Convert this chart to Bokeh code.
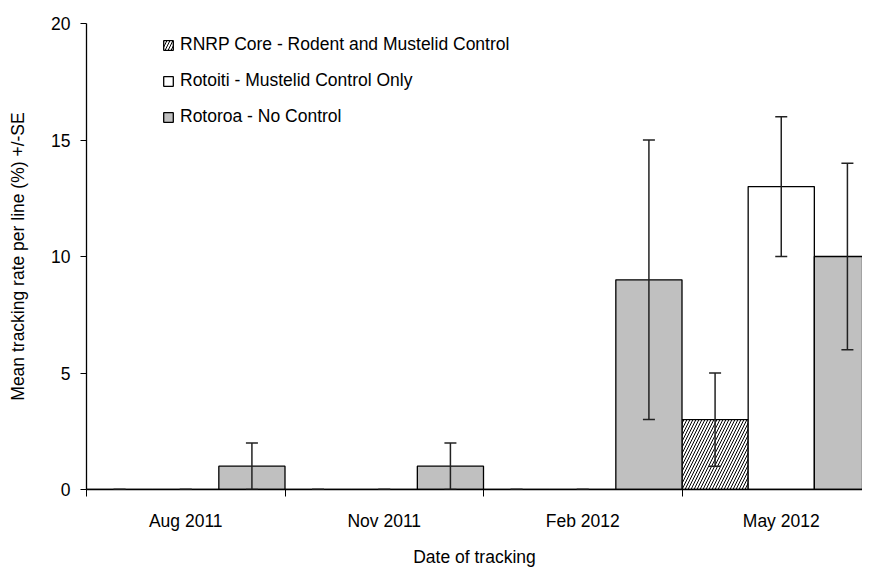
import numpy as np
from bokeh.plotting import figure
from bokeh.models import (ColumnDataSource, Range1d, FixedTicker, Whisker, TeeHead,
                          Legend, LegendItem)
from bokeh.embed import file_html
from bokeh.resources import INLINE

# ---- data ----
categories = ["Aug 2011", "Nov 2011", "Feb 2012", "May 2012"]
series_names = ["RNRP Core - Rodent and Mustelid Control",
                "Rotoiti - Mustelid Control Only",
                "Rotoroa - No Control"]
rnrp = [0, 0, 0, 3]
rnrp_se = [0, 0, 0, 2]
rotoiti = [0, 0, 0, 13]
rotoiti_se = [0, 0, 0, 3]
rotoroa = [1, 1, 9, 10]
rotoroa_se = [1, 1, 6, 4]
y_ticks = [0, 5, 10, 15, 20]

FONT = "Liberation Sans"
FS = "17.5px"

W, H = 862, 566
LEFT, TOP, FH = 86, 23, 466
FW = W - LEFT
n_cat_visible = FW / 198.5

p = figure(width=W, height=H, output_backend="svg", toolbar_location=None,
           x_range=Range1d(0, n_cat_visible), y_range=Range1d(0, 20),
           frame_width=FW, frame_height=FH,
           min_border_left=LEFT, min_border_right=0, min_border_top=TOP,
           min_border_bottom=H - TOP - FH)
p.outline_line_color = None
p.xgrid.grid_line_color = None
p.ygrid.grid_line_color = None
p.background_fill_color = "white"

idx = np.arange(len(categories))
bw = 1.0 / 3.0
styles = [
    dict(fill_color="white", hatch_pattern="/", hatch_color="black", hatch_scale=6, hatch_weight=1),
    dict(fill_color="white"),
    dict(fill_color="#C0C0C0"),
]
vals = [rnrp, rotoiti, rotoroa]
ses = [rnrp_se, rotoiti_se, rotoroa_se]
items = []
for k in range(3):
    x = idx + bw * k + bw / 2
    v = np.array(vals[k], dtype=float)
    se = np.array(ses[k], dtype=float)
    src = ColumnDataSource(dict(x=x, top=v, upper=v + se, lower=v - se))
    r = p.vbar(x="x", top="top", bottom=0, width=bw, source=src,
               line_color="black", line_width=1.3, **styles[k])
    items.append(LegendItem(label=series_names[k], renderers=[r]))
    w = Whisker(source=src, base="x", upper="upper", lower="lower", dimension="height",
                line_color="#222222", line_width=1.5, level="annotation",
                upper_head=TeeHead(size=12, line_color="#222222", line_width=1.5),
                lower_head=TeeHead(size=12, line_color="#222222", line_width=1.5))
    p.add_layout(w)

legend = Legend(items=items, location=(76, FH - 11 - 93), orientation="vertical")
legend.label_text_font = FONT
legend.label_text_font_size = FS
legend.label_text_color = "black"
legend.glyph_width = 12
legend.glyph_height = 12
legend.label_height = 20
legend.spacing = 15
legend.padding = 0
legend.margin = 0
legend.label_standoff = 6
legend.background_fill_alpha = 0
legend.border_line_alpha = 0
p.add_layout(legend, "center")

# x axis
xa = p.xaxis[0]
xa.ticker = FixedTicker(ticks=list(idx + 0.5), minor_ticks=list(np.arange(len(categories) + 1)))
xa.major_label_overrides = {float(i + 0.5): c for i, c in enumerate(categories)}
xa.major_tick_out = 0
xa.major_tick_in = 0
xa.minor_tick_out = 7
xa.minor_tick_in = 0
xa.minor_tick_line_color = "black"
xa.axis_line_color = "black"
xa.axis_line_width = 1.3
xa.major_label_text_font = FONT
xa.major_label_text_font_size = FS
xa.major_label_text_color = "black"
xa.major_label_standoff = 14
xa.axis_label = "Date of tracking"
xa.axis_label_text_font = FONT
xa.axis_label_text_font_size = FS
xa.axis_label_text_font_style = "normal"
xa.axis_label_text_color = "black"
xa.axis_label_standoff = 13

ya = p.yaxis[0]
ya.ticker = FixedTicker(ticks=y_ticks, minor_ticks=[])
ya.major_tick_out = 6
ya.major_tick_in = 0
ya.major_tick_line_color = "black"
ya.axis_line_color = "black"
ya.axis_line_width = 1.3
ya.major_label_text_font = FONT
ya.major_label_text_font_size = FS
ya.major_label_text_color = "black"
ya.major_label_standoff = 10
ya.axis_label = "Mean tracking rate per line (%) +/-SE"
ya.axis_label_text_font = FONT
ya.axis_label_text_font_size = FS
ya.axis_label_text_font_style = "normal"
ya.axis_label_text_color = "black"
ya.axis_label_standoff = 20

open("out.html", "w").write(file_html(p, INLINE))
